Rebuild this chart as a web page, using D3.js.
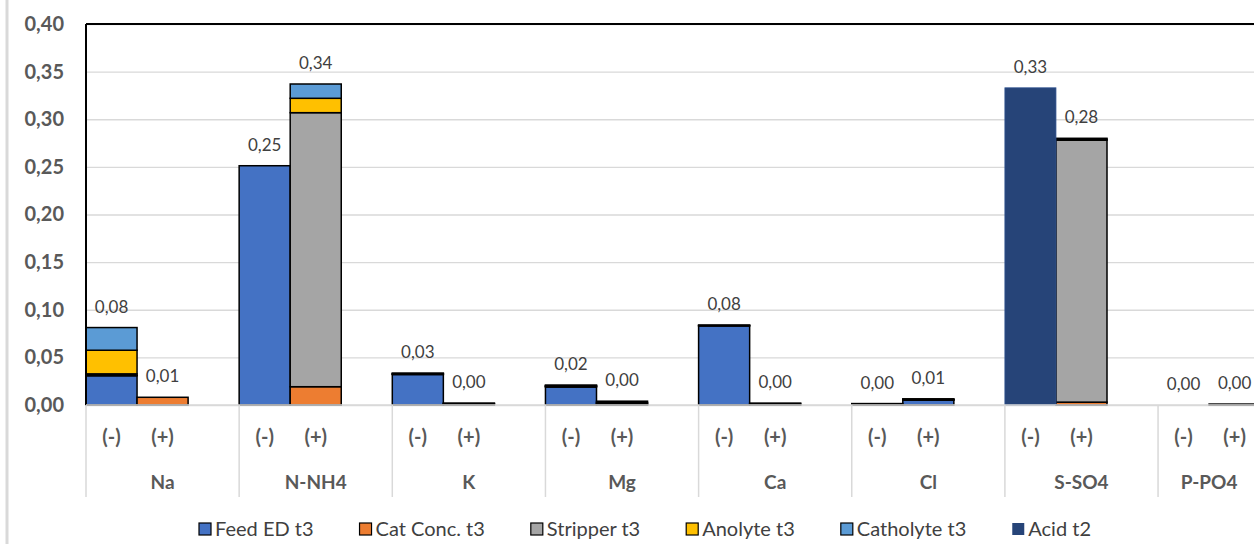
<!DOCTYPE html>
<html>
<head>
<meta charset="utf-8">
<script src="https://cdn.jsdelivr.net/npm/d3@7"></script>
<style>
  html, body { margin: 0; padding: 0; background: #fff; }
  svg { display: block; font-family: Lato, "Open Sans", sans-serif; }
</style>
</head>
<body>
<svg id="chart" width="1254" height="544"></svg>
<script>
// Ion groups on the category axis, each with a (-) and a (+) bar
const groups = ["Na", "N-NH4", "K", "Mg", "Ca", "Cl", "S-SO4", "P-PO4"];
const sides = ["(-)", "(+)"];
const yTicks = [0, 0.05, 0.10, 0.15, 0.20, 0.25, 0.30, 0.35, 0.40];

const seriesNames = ["Feed ED t3", "Cat Conc. t3", "Stripper t3", "Anolyte t3", "Catholyte t3", "Acid t2"];
const seriesColors = ["#4472C4", "#ED7D31", "#A5A5A5", "#FFC000", "#5B9BD5", "#264478"];

// Values per series, ordered Na(-), Na(+), N-NH4(-), N-NH4(+), ... P-PO4(-), P-PO4(+)
const feedEDt3    = [0.0307, 0,      0.2512, 0,      0.0320, 0,      0.0189, 0,      0.0830, 0,      0.0010, 0.0050, 0,      0,      0, 0];
const catConcT3   = [0.0005, 0.0081, 0,      0.0192, 0.0005, 0.0010, 0.0005, 0.0005, 0.0005, 0.0010, 0.0005, 0.0005, 0,      0.0030, 0, 0];
const stripperT3  = [0.0015, 0,      0,      0.2877, 0.0005, 0.0005, 0.0005, 0.0005, 0.0005, 0.0010, 0,      0.0005, 0,      0.2750, 0, 0.0010];
const anolyteT3   = [0.0248, 0,      0,      0.0151, 0.0005, 0.0005, 0.0005, 0.0015, 0,      0,      0,      0.0005, 0,      0.0010, 0, 0];
const catholyteT3 = [0.0238, 0,      0,      0.0150, 0,      0,      0.0005, 0.0015, 0,      0,      0,      0,      0,      0.0010, 0, 0];
const acidT2      = [0,      0,      0,      0,      0,      0,      0,      0,      0,      0,      0,      0,      0.3330, 0,      0, 0];

const seriesValues = [feedEDt3, catConcT3, stripperT3, anolyteT3, catholyteT3, acidT2];

// Slots along the x axis: (-), (+) and an empty spacer after every group but the last
const slots = [];
groups.forEach((g, gi) => {
  sides.forEach((s, si) => slots.push({ key: g + s, group: g, side: s, idx: gi * 2 + si }));
  if (gi < groups.length - 1) slots.push({ key: g + "_gap", group: g, side: "", idx: -1 });
});

const svg = d3.select("#chart");
const plotLeft = 86, plotTop = 24, plotBottom = 405;
const slotW = 51.05;
const plotRight = plotLeft + slots.length * slotW;

const x = d3.scaleBand().domain(slots.map(d => d.key)).range([plotLeft, plotRight]).padding(0);
const y = d3.scaleLinear().domain([0, 0.40]).range([plotBottom, plotTop]);

const locale = d3.formatLocale({ decimal: ",", thousands: ".", grouping: [3], currency: ["", "€"] });
const fmt = locale.format(".2f");

// Outer chart border (left edge)
svg.append("line").attr("x1", 7).attr("x2", 7).attr("y1", 0).attr("y2", 544)
  .attr("stroke", "#D9D9D9").attr("stroke-width", 3);

// Horizontal gridlines and y labels
const yAxis = svg.append("g").attr("transform", `translate(${plotLeft},0)`)
  .call(d3.axisLeft(y).tickValues(yTicks).tickFormat(fmt).tickSize(-(plotRight - plotLeft)).tickPadding(22));
yAxis.select(".domain").remove();
yAxis.selectAll(".tick line").attr("stroke", "#D9D9D9").attr("stroke-width", 1.3);
yAxis.selectAll(".tick text").attr("fill", "#595959").attr("font-size", 20).attr("font-weight", "bold")
  .attr("font-family", "Lato, sans-serif");

// Stacked bars
const stackRows = slots.filter(s => s.idx >= 0).map(s => {
  const row = { key: s.key };
  seriesNames.forEach((n, i) => row[n] = seriesValues[i][s.idx]);
  return row;
});
const stacked = d3.stack().keys(seriesNames)(stackRows);

stacked.forEach((layer, li) => {
  svg.append("g").selectAll("rect").data(layer.filter(d => d[1] - d[0] > 0)).join("rect")
    .attr("x", d => x(d.data.key))
    .attr("width", x.bandwidth())
    .attr("y", d => y(d[1]))
    .attr("height", d => y(d[0]) - y(d[1]))
    .attr("fill", seriesColors[li])
    .attr("stroke", li === 5 ? "#2F528F" : "#000")
    .attr("stroke-width", li === 5 ? 0.8 : 1.5);
});

// Plot frame: black top and left edges, grey baseline
svg.append("line").attr("x1", plotLeft).attr("x2", plotRight).attr("y1", plotTop).attr("y2", plotTop)
  .attr("stroke", "#000").attr("stroke-width", 2);
svg.append("line").attr("x1", plotLeft).attr("x2", plotLeft).attr("y1", plotTop).attr("y2", plotBottom)
  .attr("stroke", "#000").attr("stroke-width", 2);
svg.append("line").attr("x1", plotLeft).attr("x2", plotRight).attr("y1", plotBottom).attr("y2", plotBottom)
  .attr("stroke", "#D9D9D9").attr("stroke-width", 1.5);

// Total labels above each bar
svg.append("g").selectAll("text").data(stackRows).join("text")
  .attr("x", d => x(d.key) + x.bandwidth() / 2)
  .attr("y", d => y(d3.sum(seriesNames, n => d[n])) - 15)
  .attr("text-anchor", "middle")
  .attr("font-size", 17).attr("fill", "#404040")
  .text(d => fmt(d3.sum(seriesNames, n => d[n])));

// Group separators under the axis
const groupStarts = groups.map(g => x(g + "(-)"));
svg.append("g").selectAll("line").data(groupStarts).join("line")
  .attr("x1", d => d).attr("x2", d => d).attr("y1", plotBottom).attr("y2", 497)
  .attr("stroke", "#D9D9D9").attr("stroke-width", 1.5);

// Sub-category labels
svg.append("g").selectAll("text").data(slots.filter(s => s.side)).join("text")
  .attr("x", d => x(d.key) + x.bandwidth() / 2)
  .attr("y", 444)
  .attr("text-anchor", "middle")
  .attr("font-size", 20).attr("font-weight", "bold").attr("fill", "#595959")
  .text(d => d.side);

// Group labels centred under their slots
svg.append("g").selectAll("text").data(groups).join("text")
  .attr("x", g => {
    const ks = slots.filter(s => s.group === g);
    return (x(ks[0].key) + x(ks[ks.length - 1].key) + x.bandwidth()) / 2;
  })
  .attr("y", 489)
  .attr("text-anchor", "middle")
  .attr("font-size", 19).attr("font-weight", "bold").attr("fill", "#595959")
  .text(g => g);

// Legend
const legend = svg.append("g").attr("transform", "translate(199,529)");
let lx = 0;
seriesNames.forEach((n, i) => {
  const item = legend.append("g").attr("transform", `translate(${lx},0)`);
  item.append("rect").attr("x", 0).attr("y", -6).attr("width", 12).attr("height", 12)
    .attr("fill", seriesColors[i]).attr("stroke", i === 5 ? "none" : "#000").attr("stroke-width", 1.2);
  const t = item.append("text").attr("x", 16).attr("y", 7)
    .attr("font-size", 20).attr("fill", "#404040").text(n);
  lx += 16 + t.node().getComputedTextLength() + 46;
});
</script>
</body>
</html>
